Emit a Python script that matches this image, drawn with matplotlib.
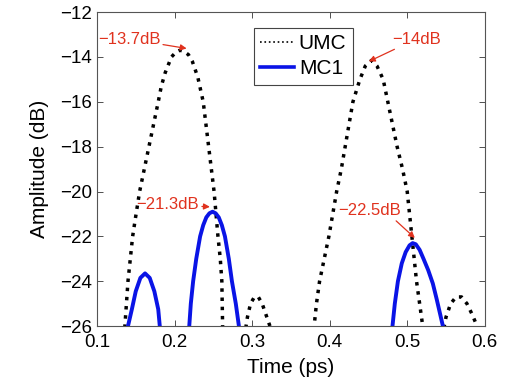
import numpy as np
import matplotlib.pyplot as plt
from matplotlib.lines import Line2D

plt.rcParams['font.family'] = ['Liberation Sans', 'DejaVu Sans']

# UMC trace (dB); values below -26 are off-axis
umc_t = [0.125, 0.133, 0.136, 0.138, 0.140, 0.143, 0.146, 0.150, 0.155, 0.161, 0.167,
         0.173, 0.179, 0.183, 0.188, 0.196, 0.202, 0.207, 0.212, 0.218, 0.223, 0.230,
         0.237, 0.244, 0.251, 0.256, 0.259, 0.261, 0.262, 0.264,
         0.280, 0.290, 0.294, 0.298, 0.303, 0.308, 0.313, 0.318, 0.323, 0.326,
         0.350, 0.376, 0.380, 0.383, 0.387, 0.393, 0.399, 0.404, 0.409, 0.415, 0.420,
         0.425, 0.430, 0.439, 0.446, 0.454, 0.461, 0.469, 0.475, 0.481, 0.487, 0.494,
         0.500, 0.503, 0.506, 0.509, 0.512, 0.516, 0.520, 0.523,
         0.535, 0.545, 0.550, 0.556, 0.563, 0.570, 0.577, 0.584, 0.590, 0.594]
umc_db = [-30.0, -27.5, -26.0, -25.0, -24.0, -23.0, -22.0, -21.1, -20.0, -19.0, -18.0,
          -17.0, -16.0, -15.3, -14.7, -14.0, -13.78, -13.7, -13.75, -13.9, -14.2, -14.9,
          -16.0, -18.0, -20.0, -22.0, -23.0, -24.0, -26.0, -27.5,
          -30.0, -26.5, -25.6, -25.0, -24.7, -24.7, -25.0, -25.5, -26.0, -26.5,
          -30.0, -27.5, -26.0, -25.0, -24.0, -23.0, -22.0, -21.0, -20.0, -19.0, -18.0,
          -17.0, -16.0, -15.0, -14.4, -14.15, -14.4, -15.0, -16.0, -17.0, -18.0, -19.0,
          -20.0, -21.0, -22.0, -23.0, -24.0, -25.0, -26.0, -27.5,
          -30.0, -26.5, -25.6, -25.0, -24.7, -24.7, -25.0, -25.5, -26.0, -26.5]

# MC1 trace (dB)
mc1_t = [0.136, 0.140, 0.145, 0.150, 0.156, 0.162, 0.168, 0.174, 0.179, 0.181, 0.184,
         0.200, 0.216, 0.219, 0.221, 0.224, 0.228, 0.233, 0.237, 0.241, 0.245, 0.249,
         0.253, 0.257, 0.261, 0.265, 0.270, 0.274, 0.279, 0.283, 0.286,
         0.400, 0.478, 0.481, 0.484, 0.488, 0.493, 0.498, 0.503, 0.507, 0.511, 0.516,
         0.521, 0.527, 0.533, 0.538, 0.542, 0.546, 0.549]
mc1_db = [-27.0, -26.0, -25.25, -24.45, -23.85, -23.65, -23.85, -24.45, -25.25, -26.0, -27.0,
          -32.0, -27.0, -26.0, -25.0, -24.0, -23.0, -22.0, -21.5, -21.15, -20.97, -20.9,
          -20.97, -21.15, -21.5, -22.0, -23.0, -24.0, -25.0, -26.0, -27.0,
          -32.0, -27.0, -26.0, -25.0, -24.0, -23.2, -22.7, -22.4, -22.3, -22.35, -22.6,
          -23.0, -23.5, -24.1, -24.8, -25.4, -26.0, -27.0]

fig = plt.figure(figsize=(5.13, 3.91), dpi=100)
ax = fig.add_axes([0.189, 0.166, 0.756, 0.803])

ax.plot(umc_t, umc_db, color='black', linestyle=':', linewidth=2.5)
ax.plot(mc1_t, mc1_db, color='#0a14e6', linewidth=2.8)

ax.set_xlim(0.1, 0.6)
ax.set_ylim(-26, -12)
ax.set_xticks([0.1, 0.2, 0.3, 0.4, 0.5, 0.6])
ax.set_xticklabels(['0.1', '0.2', '0.3', '0.4', '0.5', '0.6'])
ax.set_yticks(np.arange(-26, -11, 2))
ax.tick_params(direction='in', top=True, right=True, labelsize=13.5, length=4, width=0.6, colors='#333333',
               labelcolor='black')
ax.tick_params(axis='x', pad=6)
for s in ax.spines.values():
    s.set_color('#555555')
    s.set_linewidth(0.8)
ax.set_xlabel('Time (ps)', fontsize=15, labelpad=5)
ax.set_ylabel('Amplitude (dB)', fontsize=15, labelpad=8)

red = '#e0321e'
ann = dict(color=red, fontsize=12)
arr = dict(arrowstyle='-|>', color=red, lw=0.9, mutation_scale=9, shrinkA=0, shrinkB=0)
ax.annotate('\u221213.7dB', xy=(0.2156, -13.62), xytext=(0.101, -13.2), va='center', ha='left',
            arrowprops=arr, **ann)
ax.annotate('\u221214dB', xy=(0.4505, -14.2), xytext=(0.480, -13.2), va='center', ha='left',
            arrowprops=arr, **ann)
ax.annotate('\u221221.3dB', xy=(0.2456, -20.68), xytext=(0.151, -20.6), va='center', ha='left',
            arrowprops=arr, **ann)
ax.annotate('\u221222.5dB', xy=(0.5098, -22.07), xytext=(0.4106, -20.85), va='center', ha='left',
            arrowprops=dict(arrowstyle='-|>', color=red, lw=0.9, mutation_scale=9, shrinkA=0, shrinkB=0,
                            relpos=(0.88, 0.0)), **ann)

handles = [Line2D([], [], color='black', linestyle=':', linewidth=1.2),
           Line2D([], [], color='#0a14e6', linewidth=2.6)]
leg = ax.legend(handles, ['UMC', 'MC1'], loc='upper left', bbox_to_anchor=(0.405, 0.95), fontsize=15,
                fancybox=False, framealpha=1, edgecolor='#444444', handlelength=1.6,
                borderpad=0.3, labelspacing=0.3, handletextpad=0.25, borderaxespad=0)
leg.get_frame().set_linewidth(0.8)

fig.savefig('out.png', dpi=100)
